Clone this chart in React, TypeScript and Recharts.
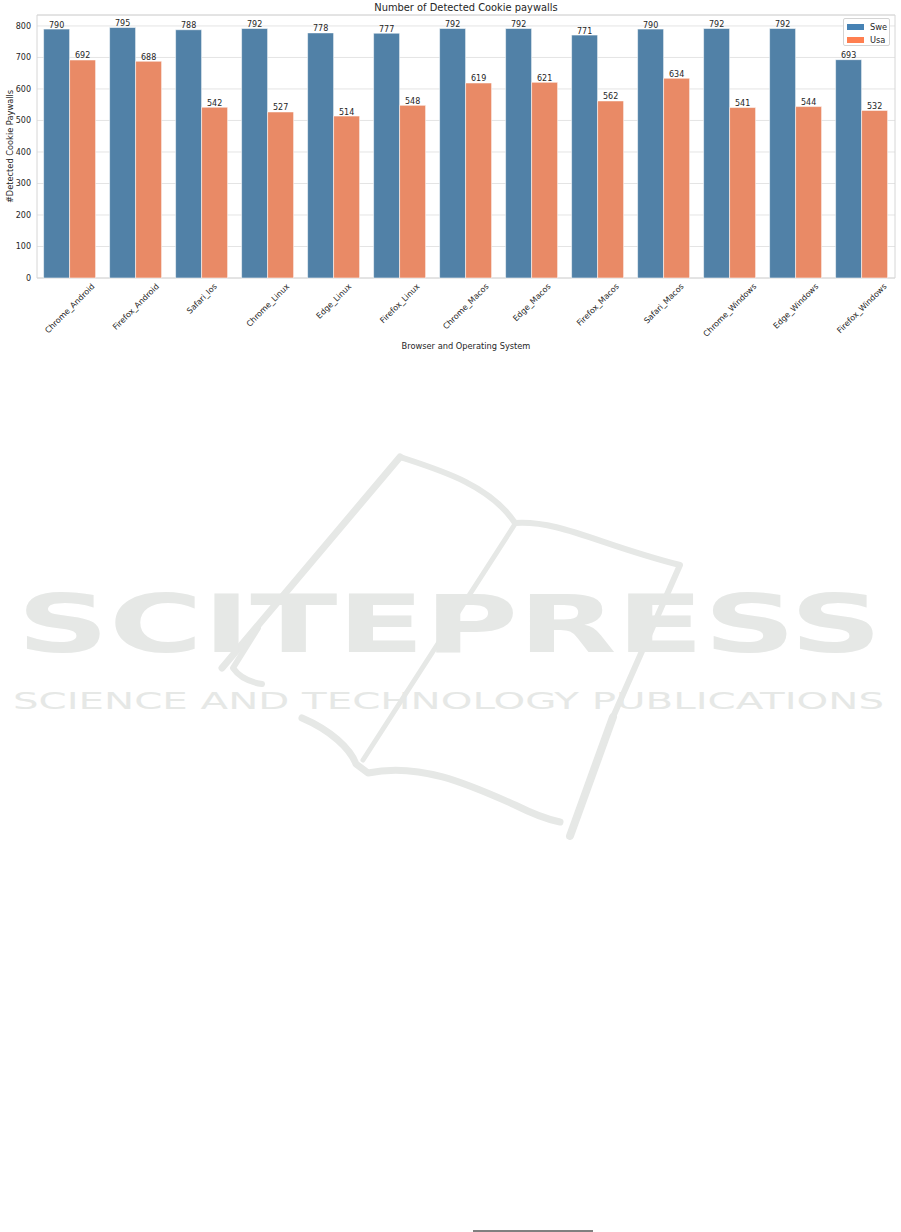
import React from 'react';
import { BarChart, Bar, XAxis, YAxis, CartesianGrid, LabelList, Legend, ReferenceArea, Label } from 'recharts';

const categories = ['Chrome_Android', 'Firefox_Android', 'Safari_Ios', 'Chrome_Linux', 'Edge_Linux', 'Firefox_Linux', 'Chrome_Macos', 'Edge_Macos', 'Firefox_Macos', 'Safari_Macos', 'Chrome_Windows', 'Edge_Windows', 'Firefox_Windows'];
const sweValues = [790, 795, 788, 792, 778, 777, 792, 792, 771, 790, 792, 792, 693];
const usaValues = [692, 688, 542, 527, 514, 548, 619, 621, 562, 634, 541, 544, 532];
const yTicks = [0, 100, 200, 300, 400, 500, 600, 700, 800];
const seriesNames = ['Swe', 'Usa'];

const data = categories.map((c, i) => ({ name: c, swe: sweValues[i], usa: usaValues[i] }));

const FONT = '"DejaVu Sans", sans-serif';
const TEXT = '#262626';
const Y_MAX = 834.75;
const PLOT_TOP = 15;
const PLOT_BOTTOM = 278;
const TICK_FS = 8;

let canvasCtx: CanvasRenderingContext2D | null = null;
function measure(text: string, fs: number) {
  if (!canvasCtx) {
    const c = document.createElement('canvas');
    canvasCtx = c.getContext('2d');
  }
  if (!canvasCtx) return text.length * fs * 0.6;
  canvasCtx.font = `${fs}px "DejaVu Sans"`;
  return canvasCtx.measureText(text).width;
}

const XTick = (props: any) => {
  const { x, payload } = props;
  const label = String(payload.value);
  const w = measure(label, TICK_FS);
  const h = TICK_FS * 1.1;
  const cy = PLOT_BOTTOM + 4 + ((w + h) * Math.SQRT1_2) / 2;
  return (
    <text
      x={x}
      y={cy}
      transform={`rotate(-45 ${x} ${cy})`}
      textAnchor="middle"
      dominantBaseline="central"
      fontFamily={FONT}
      fontSize={TICK_FS}
      fill={TEXT}
    >
      {label}
    </text>
  );
};

const LegendBox = () => {
  const colors = ['#4682b4', '#ff7f50'];
  return (
    <div
      style={{
        width: 45,
        height: 26,
        border: '1px solid #d4d4d4',
        borderRadius: 2,
        background: 'rgba(255,255,255,0.85)',
        position: 'relative',
        fontFamily: FONT,
        fontSize: 8.25,
        color: TEXT,
      }}
    >
      {seriesNames.map((n, i) => (
        <div key={n} style={{ position: 'absolute', left: 3, top: 4 + i * 13, height: 8, display: 'flex', alignItems: 'center' }}>
          <div style={{ width: 16.5, height: 6, background: colors[i] }} />
          <span style={{ marginLeft: 6.5, lineHeight: '8px' }}>{n}</span>
        </div>
      ))}
    </div>
  );
};

const Watermark = () => {
  const c = '#e6e8e6';
  return (
    <svg width={901} height={1232} style={{ position: 'absolute', left: 0, top: 0 }}>
      <g fill="none" stroke={c} strokeWidth={6} strokeLinecap="round" strokeLinejoin="round">
        <path d="M400,457 L222,668" strokeWidth={7} />
        <path d="M400,457 C440,470 490,485 515,523 C560,520 600,545 680,565 L613,717" />
        <path d="M515,524 L363,760" strokeWidth={5} />
        <path d="M258,628 L233,668 Q242,681 262,684" />
        <path d="M302,718 C330,730 350,748 356,764 L368,773 C420,762 470,785 515,805 C535,815 550,820 560,822" strokeWidth={7} />
        <path d="M613,717 L570,836" strokeWidth={8} />
      </g>
      <text x={17} y={652} fontFamily={FONT} fontWeight="bold" fontSize={81} fill={c} textLength={865} lengthAdjust="spacingAndGlyphs">
        SCITEPRESS
      </text>
      <text x={13} y={709} fontFamily={FONT} fontSize={23.5} fill={c} textLength={871} lengthAdjust="spacingAndGlyphs">
        SCIENCE AND TECHNOLOGY PUBLICATIONS
      </text>
      <line x1={473} y1={1231} x2={593} y2={1231} stroke="#000" strokeWidth={1} />
    </svg>
  );
};

export default function App() {
  return (
    <div style={{ position: 'absolute', left: 0, top: 0, width: 901, height: 1232, background: '#fff', overflow: 'hidden' }}>
      <Watermark />
      <div style={{ position: 'absolute', left: 0, top: 0 }}>
        <BarChart
          width={901}
          height={360}
          data={data}
          margin={{ top: PLOT_TOP, right: 6, bottom: 0, left: 0 }}
          barCategoryGap="10%"
          barGap={0}
        >
          <CartesianGrid horizontal vertical={false} stroke="#e4e4e4" strokeWidth={1} />
          <XAxis
            dataKey="name"
            height={82}
            tick={<XTick />}
            tickLine={false}
            axisLine={false}
            interval={0}
          >
            <Label
              content={(p: any) => {
                const vb = p.viewBox;
                return (
                  <g>
                    <text x={vb.x + vb.width / 2} y={349} textAnchor="middle" fontFamily={FONT} fontSize={8.25} fill={TEXT}>
                      Browser and Operating System
                    </text>
                    <text x={vb.x + vb.width / 2} y={11} textAnchor="middle" fontFamily={FONT} fontSize={9.9} fill={TEXT}>
                      Number of Detected Cookie paywalls
                    </text>
                  </g>
                );
              }}
            />
          </XAxis>
          <YAxis
            width={37}
            domain={[0, Y_MAX]}
            ticks={yTicks}
            tickLine={false}
            axisLine={false}
            tickSize={4}
            tickMargin={2}
            tick={{ fontFamily: FONT, fontSize: TICK_FS, fill: TEXT }}
          >
            <Label
              content={(p: any) => {
                const vb = p.viewBox;
                const cy = vb.y + vb.height / 2;
                return (
                  <text x={12.5} y={cy} transform={`rotate(-90 12.5 ${cy})`} textAnchor="middle" fontFamily={FONT} fontSize={8.25} fill={TEXT}>
                    #Detected Cookie Paywalls
                  </text>
                );
              }}
            />
          </YAxis>
          <Bar dataKey="swe" name={seriesNames[0]} fill="#5181a7" stroke="#ffffff" strokeOpacity={0.55} strokeWidth={1} isAnimationActive={false}>
            <LabelList dataKey="swe" position="top" offset={1.5} style={{ fontFamily: FONT, fontSize: TICK_FS, fill: TEXT }} />
          </Bar>
          <Bar dataKey="usa" name={seriesNames[1]} fill="#e98a66" stroke="#ffffff" strokeOpacity={0.55} strokeWidth={1} isAnimationActive={false}>
            <LabelList dataKey="usa" position="top" offset={1.5} style={{ fontFamily: FONT, fontSize: TICK_FS, fill: TEXT }} />
          </Bar>
          <ReferenceArea y1={0} y2={Y_MAX} fill="none" stroke="#d6d6d6" strokeWidth={1} ifOverflow="visible" />
          <Legend
            layout="vertical"
            align="center"
            verticalAlign="middle"
            content={<LegendBox />}
            wrapperStyle={{ left: 843, top: 18, width: 'auto', height: 'auto' }}
          />
        </BarChart>
      </div>
    </div>
  );
}
